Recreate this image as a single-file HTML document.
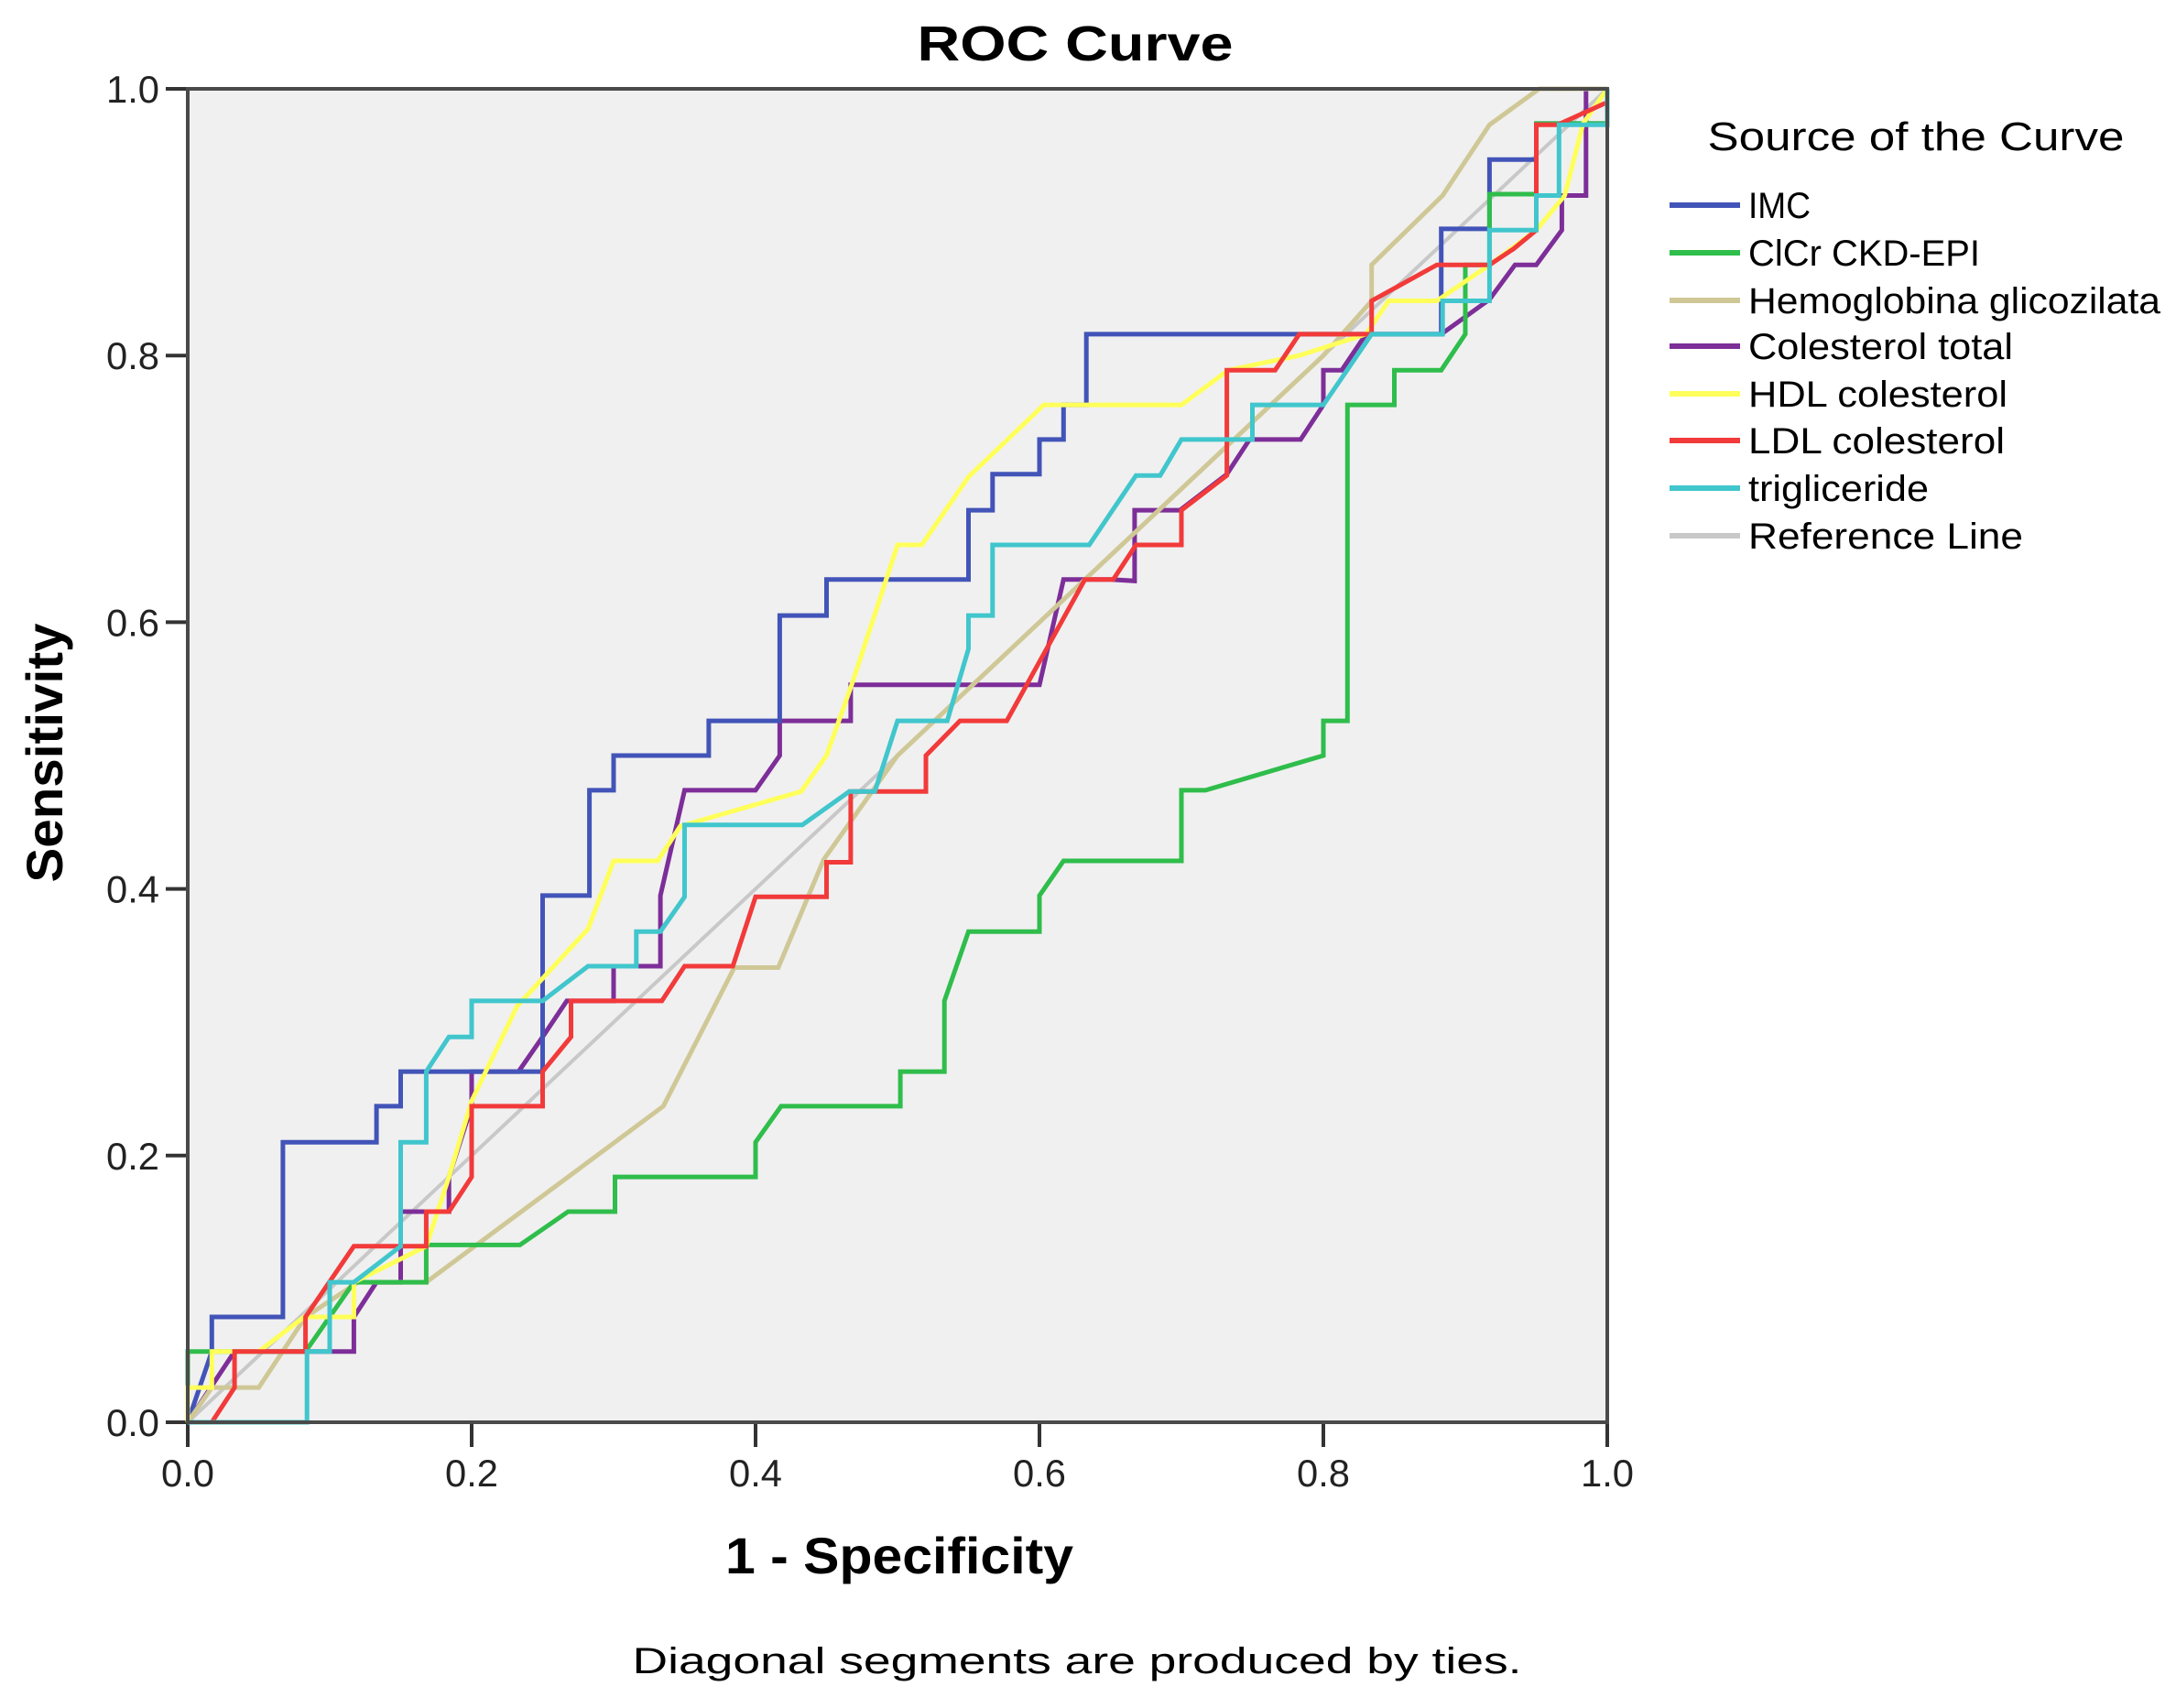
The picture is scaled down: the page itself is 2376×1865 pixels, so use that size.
<!DOCTYPE html>
<html><head><meta charset="utf-8"><style>
html,body{margin:0;padding:0;background:#fff;}
svg{display:block;font-family:"Liberation Sans",Arial,sans-serif;}
</style></head><body>
<svg id="chart" width="2376" height="1865" viewBox="0 0 2376 1865">
  <rect x="0" y="0" width="2376" height="1865" fill="#fff"/>
  <text x="1174" y="66" text-anchor="middle" font-size="54" font-weight="bold" textLength="345" lengthAdjust="spacingAndGlyphs">ROC Curve</text>
  <rect x="205" y="97" width="1550" height="1456" fill="#f0f0f0"/>
  <g id="grid-ticks"></g>
  <g id="series" clip-path="url(#clip)"></g>
  <defs><clipPath id="clip"><rect x="200" y="92" width="1560" height="1466"/></clipPath></defs>
  <rect x="205" y="97" width="1550" height="1456" fill="none" stroke="#4a4a4a" stroke-width="4"/>
  <text transform="translate(68,822) rotate(-90)" text-anchor="middle" font-size="56" font-weight="bold" textLength="283" lengthAdjust="spacingAndGlyphs">Sensitivity</text>
  <text x="982" y="1718" text-anchor="middle" font-size="56" font-weight="bold" textLength="380" lengthAdjust="spacingAndGlyphs">1 - Specificity</text>
  <text x="1176" y="1827" text-anchor="middle" font-size="40" textLength="971" lengthAdjust="spacingAndGlyphs">Diagonal segments are produced by ties.</text>
  <text x="2092" y="164" text-anchor="middle" font-size="44" textLength="455" lengthAdjust="spacingAndGlyphs">Source of the Curve</text>
  <g id="legend"></g>
</svg>
<script>
var seriesNames = ["IMC","ClCr CKD-EPI","Hemoglobina glicozilata","Colesterol total","HDL colesterol","LDL colesterol","trigliceride"];
var imcX = [0,0.017,0.017,0.067,0.067,0.133,0.133,0.15,0.15,0.25,0.25,0.283,0.283,0.3,0.3,0.367,0.367,0.417,0.417,0.45,0.45,0.55,0.55,0.567,0.567,0.6,0.6,0.617,0.617,0.633,0.633,0.883,0.883,0.917,0.917,0.95,0.95,1,1];
var imcY = [0,0.053,0.079,0.079,0.21,0.21,0.237,0.237,0.263,0.263,0.395,0.395,0.474,0.474,0.5,0.5,0.526,0.526,0.605,0.605,0.632,0.632,0.684,0.684,0.711,0.711,0.737,0.737,0.763,0.763,0.816,0.816,0.895,0.895,0.947,0.947,0.974,0.974,1];
var clcrX = [0,0,0.083,0.117,0.168,0.168,0.234,0.268,0.301,0.301,0.4,0.4,0.418,0.502,0.502,0.533,0.533,0.55,0.6,0.6,0.617,0.7,0.7,0.717,0.8,0.8,0.817,0.817,0.85,0.85,0.883,0.9,0.9,0.917,0.917,0.95,0.95,1,1];
var clcrY = [0,0.053,0.053,0.105,0.105,0.133,0.133,0.158,0.158,0.184,0.184,0.21,0.237,0.237,0.263,0.263,0.316,0.368,0.368,0.395,0.421,0.421,0.474,0.474,0.5,0.526,0.526,0.763,0.763,0.789,0.789,0.816,0.868,0.868,0.921,0.921,0.974,0.974,1];
var hbX = [0,0.017,0.05,0.083,0.12,0.168,0.335,0.385,0.416,0.448,0.5,0.8,0.834,0.834,0.884,0.917,0.952,1];
var hbY = [0,0.026,0.026,0.079,0.105,0.105,0.237,0.341,0.341,0.422,0.5,0.8,0.841,0.868,0.92,0.973,1,1];
var colX = [0,0.033,0.117,0.117,0.133,0.15,0.15,0.184,0.184,0.2,0.2,0.233,0.25,0.267,0.3,0.3,0.333,0.333,0.35,0.35,0.4,0.417,0.417,0.467,0.467,0.6,0.617,0.65,0.65,0.667,0.667,0.699,0.732,0.748,0.784,0.8,0.8,0.813,0.83,0.883,0.917,0.935,0.95,0.968,0.968,0.985,0.985,1];
var colY = [0,0.053,0.053,0.079,0.105,0.105,0.158,0.158,0.184,0.237,0.263,0.263,0.289,0.316,0.316,0.342,0.342,0.395,0.474,0.474,0.474,0.5,0.526,0.526,0.553,0.553,0.632,0.632,0.632,0.631,0.684,0.684,0.711,0.737,0.737,0.763,0.789,0.789,0.816,0.816,0.842,0.868,0.868,0.894,0.92,0.92,1,1];
var hdlX = [0,0,0.017,0.017,0.05,0.082,0.117,0.117,0.168,0.184,0.2,0.232,0.282,0.3,0.331,0.347,0.432,0.45,0.468,0.5,0.517,0.55,0.603,0.7,0.733,0.783,0.83,0.846,0.88,0.917,0.95,0.97,0.983,1];
var hdlY = [0,0.026,0.026,0.053,0.053,0.079,0.079,0.105,0.132,0.184,0.241,0.312,0.37,0.421,0.421,0.447,0.473,0.5,0.554,0.658,0.658,0.709,0.763,0.763,0.789,0.8,0.816,0.841,0.841,0.868,0.894,0.92,0.974,1];
var ldlX = [0.017,0.033,0.033,0.083,0.083,0.117,0.168,0.168,0.184,0.2,0.2,0.25,0.25,0.27,0.27,0.334,0.35,0.384,0.4,0.45,0.45,0.467,0.467,0.52,0.52,0.544,0.577,0.632,0.652,0.668,0.7,0.7,0.732,0.732,0.766,0.783,0.834,0.834,0.88,0.917,0.934,0.95,0.95,0.965,1,1];
var ldlY = [0,0.026,0.053,0.053,0.079,0.132,0.132,0.158,0.158,0.184,0.237,0.237,0.263,0.289,0.316,0.316,0.342,0.342,0.394,0.394,0.42,0.42,0.473,0.473,0.5,0.526,0.526,0.632,0.632,0.658,0.658,0.684,0.71,0.789,0.789,0.816,0.816,0.841,0.868,0.868,0.88,0.894,0.973,0.973,0.99,1];
var trigX = [0,0.084,0.084,0.1,0.1,0.117,0.15,0.15,0.168,0.168,0.184,0.2,0.2,0.25,0.282,0.316,0.316,0.333,0.35,0.35,0.433,0.466,0.484,0.5,0.535,0.55,0.55,0.567,0.567,0.635,0.668,0.685,0.7,0.75,0.75,0.8,0.834,0.884,0.884,0.917,0.917,0.95,0.95,0.966,0.966,1,1];
var trigY = [0,0,0.053,0.053,0.105,0.105,0.132,0.21,0.21,0.263,0.289,0.289,0.316,0.316,0.342,0.342,0.368,0.368,0.394,0.448,0.448,0.473,0.473,0.526,0.526,0.58,0.605,0.605,0.658,0.658,0.71,0.71,0.737,0.737,0.763,0.763,0.816,0.816,0.841,0.841,0.894,0.894,0.92,0.92,0.973,0.973,1];
var refX = [0,1];
var refY = [0,1];
var tickValues = [0,0.2,0.4,0.6,0.8,1.0];
var tickLabels = ["0.0","0.2","0.4","0.6","0.8","1.0"];

var seriesXs = [colX,imcX,hbX,clcrX,hdlX,ldlX,trigX];
var seriesYs = [colY,imcY,hbY,clcrY,hdlY,ldlY,trigY];
var drawNames = [seriesNames[3],seriesNames[0],seriesNames[2],seriesNames[1],seriesNames[4],seriesNames[5],seriesNames[6]];
var drawColors = ["#7d2e98","#4254b8","#cfc896","#2fbd4b","#ffff5a","#f23a3a","#40c6cc"];
var colors = ["#4254b8","#2fbd4b","#cfc896","#7d2e98","#ffff5a","#f23a3a","#40c6cc"];
var NS="http://www.w3.org/2000/svg";
var X0=205,X1=1755,Y0=1553,Y1=97;
function sx(v){return X0+v*(X1-X0);}
function sy(v){return Y0-v*(Y0-Y1);}
function pts(xs,ys){var a=[];for(var i=0;i<xs.length;i++)a.push(sx(xs[i]).toFixed(1)+","+sy(ys[i]).toFixed(1));return a.join(" ");}

var ticks=document.getElementById("grid-ticks");
for(var i=0;i<tickValues.length;i++){
  var t=document.createElementNS(NS,"line");
  t.setAttribute("x1",181);t.setAttribute("x2",205);t.setAttribute("y1",sy(tickValues[i]));t.setAttribute("y2",sy(tickValues[i]));
  t.setAttribute("stroke","#333");t.setAttribute("stroke-width","4");
  
  
  ticks.appendChild(t);
  var l=document.createElementNS(NS,"text");
  l.setAttribute("x",174);l.setAttribute("y",sy(tickValues[i])+15);l.setAttribute("text-anchor","end");l.setAttribute("font-size","42");l.setAttribute("fill","#222");
  l.setAttribute("textLength","58");l.setAttribute("lengthAdjust","spacingAndGlyphs");
  l.textContent=tickLabels[i];
  
  
  ticks.appendChild(l);
  var t2=document.createElementNS(NS,"line");
  t2.setAttribute("x1",sx(tickValues[i]));t2.setAttribute("x2",sx(tickValues[i]));t2.setAttribute("y1",1553);t2.setAttribute("y2",1580);
  t2.setAttribute("stroke","#333");t2.setAttribute("stroke-width","4");
  
  
  ticks.appendChild(t2);
  var l2=document.createElementNS(NS,"text");
  l2.setAttribute("x",sx(tickValues[i]));l2.setAttribute("y",1623);l2.setAttribute("text-anchor","middle");l2.setAttribute("font-size","42");l2.setAttribute("fill","#222");
  l2.setAttribute("textLength","58");l2.setAttribute("lengthAdjust","spacingAndGlyphs");
  l2.textContent=tickLabels[i];
  
  
  ticks.appendChild(l2);
}

var g=document.getElementById("series");
var ref=document.createElementNS(NS,"polyline");
ref.setAttribute("points",pts(refX,refY));ref.setAttribute("fill","none");ref.setAttribute("stroke","#c8c8c8");ref.setAttribute("stroke-width","4");


g.appendChild(ref);
for(var s=0;s<seriesXs.length;s++){
  var p=document.createElementNS(NS,"polyline");
  p.setAttribute("points",pts(seriesXs[s],seriesYs[s]));
  p.setAttribute("fill","none");p.setAttribute("stroke",drawColors[s]);p.setAttribute("stroke-width","5");p.setAttribute("stroke-linejoin","miter");
  
  
  g.appendChild(p);
}

var leg=document.getElementById("legend");
var legNames=seriesNames.concat(["Reference Line"]);
var legColors=colors.concat(["#c8c8c8"]);
var legY=[224,276,328,378,430,481,533,585];
var legW=[68,253,450,289,283,280,197,300];
for(var k=0;k<legNames.length;k++){
  var ln=document.createElementNS(NS,"line");
  ln.setAttribute("x1",1823);ln.setAttribute("x2",1900);ln.setAttribute("y1",legY[k]);ln.setAttribute("y2",legY[k]);
  ln.setAttribute("stroke",legColors[k]);ln.setAttribute("stroke-width","6");
  
  
  leg.appendChild(ln);
  var tx=document.createElementNS(NS,"text");
  tx.setAttribute("x",1909);tx.setAttribute("y",legY[k]+14);tx.setAttribute("font-size","40");
  tx.setAttribute("textLength",legW[k]);tx.setAttribute("lengthAdjust","spacingAndGlyphs");
  tx.textContent=legNames[k];
  
  
  leg.appendChild(tx);
}
</script>
</body></html>
